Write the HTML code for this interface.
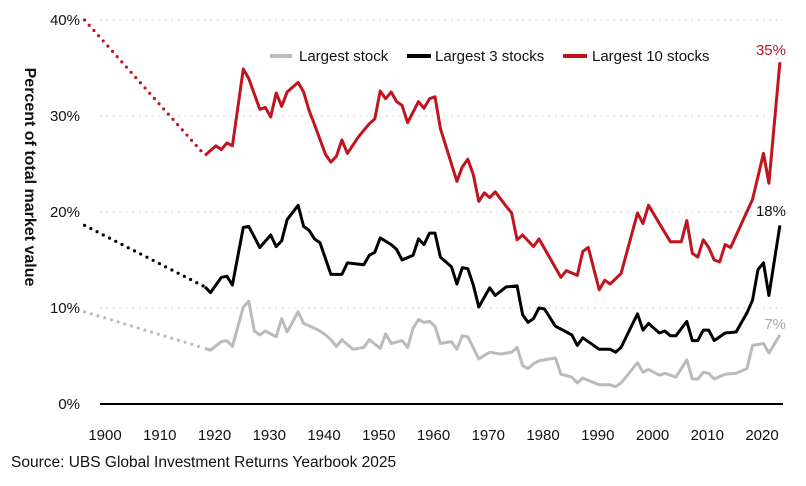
<!DOCTYPE html>
<html><head><meta charset="utf-8"><style>
body{margin:0;background:#fff;width:806px;height:481px;overflow:hidden;font-family:"Liberation Sans",sans-serif}
svg text{font-family:"Liberation Sans",sans-serif}
</style></head><body>
<svg id="chart" width="806" height="481" xmlns="http://www.w3.org/2000/svg">
<text transform="translate(25,177) rotate(90)" text-anchor="middle" font-size="16" font-weight="bold" fill="#111">Percent of total market value</text>
<g id="grid"></g><g id="yticks"></g><g id="xticks"></g><g id="series"></g>
<line x1="100" x2="783" y1="404" y2="404" stroke="#000" stroke-width="2"/>
<g>
<g><line x1="270" x2="292" y1="56" y2="56" stroke="#bbb" stroke-width="4"/><text x="299" y="61" font-size="15" fill="#111">Largest stock</text></g>
<g><line x1="407" x2="431" y1="56" y2="56" stroke="#000" stroke-width="4"/><text x="435" y="61" font-size="15" fill="#111">Largest 3 stocks</text></g>
<g><line x1="563" x2="587" y1="56" y2="56" stroke="#c0141e" stroke-width="4"/><text x="592" y="61" font-size="15" fill="#111">Largest 10 stocks</text></g>
</g>
<text x="786" y="55" text-anchor="end" font-size="15" fill="#c0141e">35%</text>
<text x="786" y="216" text-anchor="end" font-size="15" fill="#111">18%</text>
<text x="786" y="329" text-anchor="end" font-size="15" fill="#aaa">7%</text>
<text x="11" y="467" font-size="15.5" fill="#111">Source: UBS Global Investment Returns Yearbook 2025</text>
</svg>
<script>
const yTicks=[0,10,20,30,40];
const xTicks=[1900,1910,1920,1930,1940,1950,1960,1970,1980,1990,2000,2010,2020];
const dotYears=[1897,1919];
const top10Dot=[40,25.9];
const top3Dot=[18.6,12.2];
const top1Dot=[9.6,5.8];
const top10Years=[1919,1921,1922,1923,1924,1926,1927,1928,1929,1930,1931,1932,1933,1934,1936,1937,1938,1939,1941,1942,1943,1944,1945,1947,1949,1950,1951,1952,1953,1954,1955,1956,1958,1959,1960,1961,1962,1965,1966,1967,1968,1969,1970,1971,1972,1974,1975,1976,1977,1979,1980,1984,1985,1987,1988,1989,1991,1992,1993,1995,1998,1999,2000,2004,2006,2007,2008,2009,2010,2011,2012,2013,2014,2015,2019,2021,2022,2024];
const top10Values=[25.9,26.9,26.5,27.2,26.9,34.9,33.9,32.3,30.7,30.9,29.9,32.4,31.0,32.5,33.5,32.5,30.6,29.1,26.0,25.2,25.8,27.5,26.1,27.8,29.2,29.7,32.6,31.8,32.5,31.5,31.1,29.3,31.5,30.8,31.8,32.0,28.7,23.2,24.7,25.5,23.9,21.1,22.0,21.5,22.1,20.6,19.9,17.1,17.6,16.4,17.2,13.2,13.9,13.4,15.9,16.3,11.9,12.9,12.5,13.6,19.9,18.8,20.7,16.9,16.9,19.1,15.7,15.3,17.1,16.3,15.0,14.8,16.6,16.3,21.3,26.1,23.0,35.6];
const top3Years=[1919,1920,1922,1923,1924,1926,1927,1929,1931,1932,1933,1934,1936,1937,1938,1939,1940,1942,1944,1945,1948,1949,1950,1951,1953,1954,1955,1957,1958,1959,1960,1961,1962,1963,1964,1965,1966,1967,1968,1969,1971,1972,1974,1976,1977,1978,1979,1980,1981,1983,1985,1986,1987,1988,1991,1993,1994,1995,1998,1999,2000,2002,2003,2004,2005,2007,2008,2009,2010,2011,2012,2014,2016,2018,2019,2020,2021,2022,2024];
const top3Values=[12.2,11.6,13.2,13.3,12.4,18.4,18.5,16.3,17.6,16.4,17.0,19.2,20.7,18.5,18.1,17.2,16.8,13.5,13.5,14.7,14.5,15.5,15.8,17.3,16.6,16.1,15.0,15.5,17.2,16.6,17.8,17.8,15.3,14.8,14.3,12.5,14.2,14.1,12.4,10.1,12.1,11.3,12.2,12.3,9.3,8.5,8.9,10.0,9.9,8.1,7.5,7.2,6.1,6.9,5.7,5.7,5.4,5.9,9.4,7.7,8.4,7.4,7.6,7.1,7.1,8.6,6.6,6.6,7.7,7.7,6.6,7.4,7.5,9.5,10.8,14.0,14.7,11.3,18.6];
const top1Years=[1919,1920,1922,1923,1924,1926,1927,1928,1929,1930,1932,1933,1934,1936,1937,1939,1940,1941,1942,1943,1944,1946,1948,1949,1951,1952,1953,1955,1956,1957,1958,1959,1960,1961,1962,1964,1965,1966,1967,1969,1971,1973,1975,1976,1977,1978,1979,1980,1983,1984,1986,1987,1988,1991,1993,1994,1995,1998,1999,2000,2002,2003,2005,2007,2008,2009,2010,2011,2012,2014,2016,2018,2019,2021,2022,2024];
const top1Values=[5.8,5.6,6.5,6.6,6.0,10.1,10.7,7.6,7.2,7.6,7.0,8.9,7.5,9.6,8.4,7.9,7.6,7.2,6.7,6.0,6.7,5.7,5.9,6.7,5.8,7.3,6.3,6.6,5.9,7.9,8.8,8.5,8.6,8.1,6.3,6.5,5.7,7.1,7.0,4.7,5.4,5.2,5.4,5.9,4.0,3.7,4.2,4.5,4.8,3.1,2.8,2.2,2.7,2.0,2.0,1.8,2.2,4.3,3.3,3.6,3.0,3.2,2.8,4.6,2.6,2.6,3.3,3.2,2.6,3.1,3.2,3.7,6.1,6.3,5.3,7.2];

const NS='http://www.w3.org/2000/svg';
function x(yr){return 101+(yr-1900)*5.475;}
function y(v){return 404-v*9.6;}
function mk(tag,attrs,parent){const e=document.createElementNS(NS,tag);for(const k in attrs)e.setAttribute(k,attrs[k]);document.getElementById(parent).appendChild(e);return e;}

yTicks.forEach(v=>{
  if(v>0){const g=mk('line',{x1:100,x2:783,y1:y(v),y2:y(v),stroke:'#c8c8c8','stroke-width':1,'stroke-dasharray':'1.5 5'},'grid');
  
  }
  const t=mk('text',{x:80,y:y(v)+5,'text-anchor':'end','font-size':15,fill:'#111'},'yticks');
  t.textContent=v+'%';
  
  
});
xTicks.forEach(v=>{
  const t=mk('text',{x:x(v)+4,y:440,'text-anchor':'middle','font-size':15,fill:'#111'},'xticks');
  t.textContent=v;
  
  
});
function pts(xs,vs){return xs.map((yr,i)=>x(yr).toFixed(1)+','+y(vs[i]).toFixed(1)).join(' ');}
function series(xs,vs,color,name){
  const p=mk('polyline',{points:pts(xs,vs),fill:'none',stroke:color,'stroke-width':3,'stroke-linejoin':'round'},'series');
  
  
}
function dotted(vs,color,name){
  const p=mk('polyline',{points:pts(dotYears,vs),fill:'none',stroke:color,'stroke-width':3.2,'stroke-linecap':'round','stroke-dasharray':'0 7'},'series');
  
  
}
dotted(top1Dot,'#bbb','largest-stock-early-estimate');
dotted(top3Dot,'#000','largest-3-early-estimate');
dotted(top10Dot,'#c0141e','largest-10-early-estimate');
series(top1Years,top1Values,'#bbb','largest-stock-line');
series(top3Years,top3Values,'#000','largest-3-line');
series(top10Years,top10Values,'#c0141e','largest-10-line');
</script>
</body></html>
